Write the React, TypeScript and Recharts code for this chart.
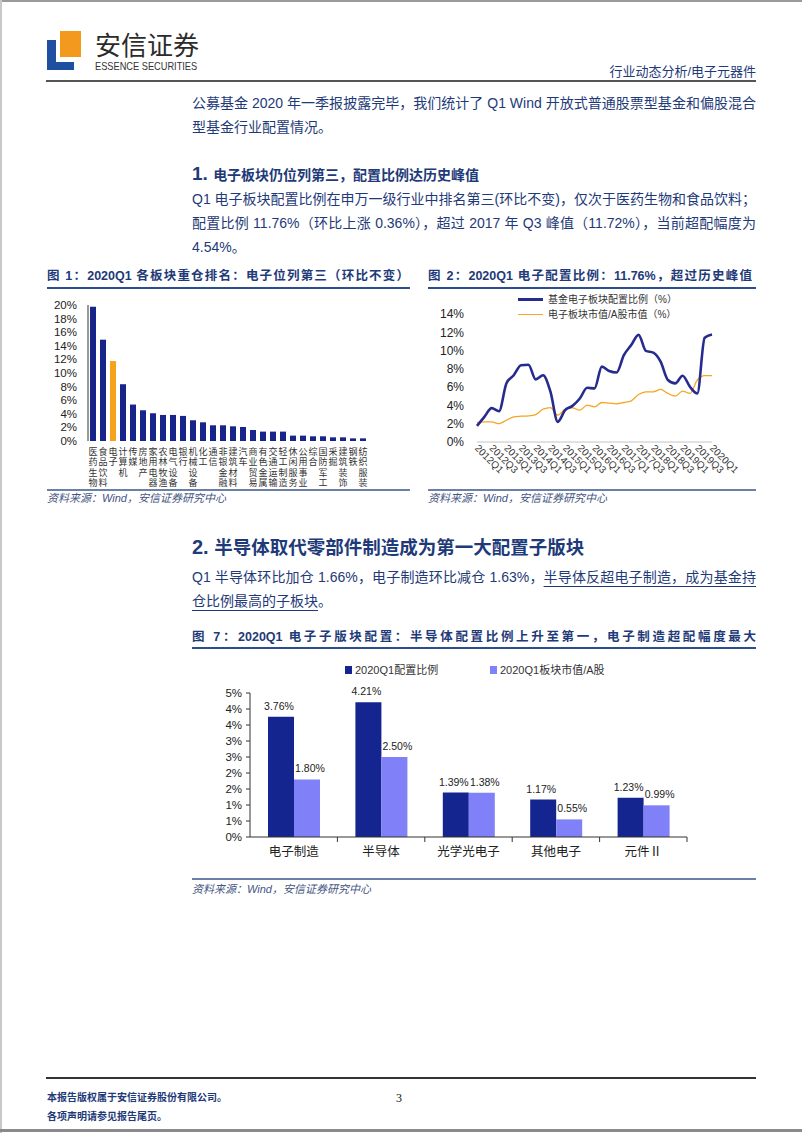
import React from "react";
import { Bar, BarChart, Cell, LabelList, Line, LineChart, XAxis, YAxis } from "recharts";

const SANS = '"Liberation Sans", Arial, "Noto Sans CJK SC", sans-serif';
const NAVY = "#1e3a78";

// 图1：申万一级行业基金重仓比例（%）
const industries = [
  "医药生物", "食品饮料", "电子", "计算机", "传媒", "房地产", "家用电器", "农林牧渔",
  "电气设备", "银行", "机械设备", "化工", "通信", "非银金融", "建筑材料", "汽车",
  "商业贸易", "有色金属", "交通运输", "轻工制造", "休闲服务", "公用事业", "综合",
  "国防军工", "采掘", "建筑装饰", "钢铁", "纺织服装",
];
const industryWeights = [
  19.75, 14.9, 11.76, 8.35, 5.36, 4.52, 4.08, 3.83, 3.83, 3.69, 3.05, 2.75, 2.31, 2.31,
  2.16, 2.06, 1.62, 1.38, 1.38, 1.38, 0.79, 0.79, 0.69, 0.69, 0.54, 0.54, 0.39, 0.39,
];
const industryTicks = [0, 2, 4, 6, 8, 10, 12, 14, 16, 18, 20];

// 图2：电子配置比例 vs 市值占比（%）
const quarters = [
  "2012Q1", "2012Q2", "2012Q3", "2012Q4", "2013Q1", "2013Q2", "2013Q3", "2013Q4",
  "2014Q1", "2014Q2", "2014Q3", "2014Q4", "2015Q1", "2015Q2", "2015Q3", "2015Q4",
  "2016Q1", "2016Q2", "2016Q3", "2016Q4", "2017Q1", "2017Q2", "2017Q3", "2017Q4",
  "2018Q1", "2018Q2", "2018Q3", "2018Q4", "2019Q1", "2019Q2", "2019Q3", "2019Q4",
  "2020Q1",
];
const fundWeight = [
  1.76, 2.75, 3.7, 3.37, 6.4, 7.3, 8.4, 8.45, 6.85, 7.3, 5.5, 2.2, 3.48, 3.95, 4.76, 5.93,
  5.86, 8.24, 7.77, 7.6, 9.5, 10.6, 11.72, 9.96, 9.78, 8.79, 6.78, 6.41, 7.25, 6.04, 5.31,
  11.4, 11.76,
];
const marketWeight = [
  2.12, 2.2, 2.2, 2.0, 2.38, 2.75, 2.82, 2.86, 3.0, 3.59, 3.77, 2.93, 3.59, 3.74, 3.48, 4.03,
  3.85, 4.32, 4.25, 4.18, 4.32, 4.5, 5.2, 5.49, 5.49, 5.75, 5.31, 5.02, 5.57, 5.31, 6.78,
  7.25, 7.25,
];
const shareTicks = [0, 2, 4, 6, 8, 10, 12, 14];

// 图7：电子子板块配置（%）
const subSectors = ["电子制造", "半导体", "光学光电子", "其他电子", "元件Ⅱ"];
const subConfig = [3.76, 4.21, 1.39, 1.17, 1.23];
const subMarket = [1.8, 2.5, 1.38, 0.55, 0.99];
const subTicks = [0, 0.5, 1, 1.5, 2, 2.5, 3, 3.5, 4, 4.5];

const industryData = industries.map((name, i) => ({ name, value: industryWeights[i] }));
const shareData = quarters.map((q, i) => ({ q, fund: fundWeight[i], market: marketWeight[i] }));
const subData = subSectors.map((name, i) => ({ name, config: subConfig[i], market: subMarket[i] }));

// 竖排标签：每个字单独一行
function VerticalTick({ x, y, payload }: any) {
  const chars = Array.from(String(payload.value));
  return (
    <g>
      {chars.map((c, i) => (
        <text key={i} x={x} y={y + 14 + i * 10.3} textAnchor="middle" fontSize={9} fill="#333" fontFamily='"Noto Sans CJK SC", sans-serif'>
          {c}
        </text>
      ))}
    </g>
  );
}

function SlantTick({ x, y, payload }: any) {
  return (
    <text x={x} y={y} transform={`rotate(45 ${x} ${y})`} fontSize={10} fill="#333" fontFamily={SANS} dy={4}>
      {payload.value}
    </text>
  );
}

function SubTick({ x, y, payload }: any) {
  const band = 87.4;
  return (
    <g>
      <line x1={x + band / 2} x2={x + band / 2} y1={y - 10} y2={y - 5} stroke="#333" />
      <text x={x} y={y} dy={9} textAnchor="middle" fontSize={12.5} fill="#222" fontFamily='"Noto Sans CJK SC", sans-serif'>
        {payload.value}
      </text>
    </g>
  );
}

const pct = (v: any) => `${Number(v).toFixed(2)}%`;

function ValueLabel({ x, y, width, value, shift }: any) {
  return (
    <text x={x + width / 2 + shift} y={y - 7} textAnchor="middle" fontSize={10.5} fill="#222" fontFamily={SANS}>
      {pct(value)}
    </text>
  );
}

function Txt({ x, y, size = 14, color = NAVY, bold = false, w, style, children }: any) {
  return (
    <div
      style={{
        position: "absolute",
        left: x,
        top: y - size * 0.75,
        width: w,
        height: size * 1.5,
        lineHeight: `${size * 1.5}px`,
        fontSize: size,
        fontWeight: bold ? 700 : 400,
        color,
        fontFamily: SANS,
        whiteSpace: "nowrap",
        textAlign: w ? "justify" : "left",
        textAlignLast: w ? "justify" : "auto",
        ...style,
      }}
    >
      {children}
    </div>
  );
}

function HLine({ x1, x2, y, h = 1, color }: any) {
  return <div style={{ position: "absolute", left: x1, top: y, width: x2 - x1, height: h, background: color }} />;
}

export default function App() {
  return (
    <div style={{ position: "absolute", left: 0, top: 0, width: 802, height: 1133, background: "#fff", overflow: "hidden" }}>
      <HLine x1={0} x2={802} y={0} h={2} color="#9a9a9a" />
      <div style={{ position: "absolute", left: 0, top: 0, width: 2, height: 1133, background: "#c8c8c8" }} />
      <HLine x1={0} x2={802} y={1129} h={3} color="#8a8a8a" />

      {/* logo */}
      <div style={{ position: "absolute", left: 60, top: 31, width: 21, height: 26, background: "#f39a1e" }} />
      <div style={{ position: "absolute", left: 47, top: 40, width: 9, height: 30, background: "#1f4fa0" }} />
      <div style={{ position: "absolute", left: 47, top: 62, width: 27, height: 8, background: "#1f4fa0" }} />
      <Txt x={95} y={46} size={26} color="#2b2b2b">安信证券</Txt>
      <Txt x={95} y={66} size={11} color="#333" style={{ transform: "scaleX(0.84)", transformOrigin: "left center" }}>
        ESSENCE SECURITIES
      </Txt>
      <div style={{ position: "absolute", right: 46, top: 62, fontSize: 13, lineHeight: "20px", color: NAVY, fontFamily: SANS }}>
        行业动态分析/电子元器件
      </div>
      <HLine x1={46} x2={756} y={80} h={2} color="#555" />

      <Txt x={192} y={103} w={564}>公募基金 2020 年一季报披露完毕，我们统计了 Q1 Wind 开放式普通股票型基金和偏股混合</Txt>
      <Txt x={192} y={127}>型基金行业配置情况。</Txt>

      <Txt x={192} y={173} size={14} bold>
        <span style={{ fontSize: 19 }}>1. </span>电子板块仍位列第三，配置比例达历史峰值
      </Txt>
      <Txt x={192} y={199} w={564}>Q1 电子板块配置比例在申万一级行业中排名第三(环比不变)，仅次于医药生物和食品饮料；</Txt>
      <Txt x={192} y={223} w={564}>配置比例 11.76%（环比上涨 0.36%），超过 2017 年 Q3 峰值（11.72%），当前超配幅度为</Txt>
      <Txt x={192} y={247}>4.54%。</Txt>

      <Txt x={47} y={276} w={362} size={12.5} bold>图 1：2020Q1 各板块重仓排名：电子位列第三（环比不变）</Txt>
      <HLine x1={47} x2={410} y={287} h={2} color="#2c4d8f" />
      <Txt x={428} y={276} w={324} size={12.5} bold>图 2：2020Q1 电子配置比例：11.76%，超过历史峰值</Txt>
      <HLine x1={428} x2={756} y={287} h={2} color="#2c4d8f" />

      <div style={{ position: "absolute", left: 30, top: 295 }}>
        <BarChart width={350} height={200} data={industryData} margin={{ top: 10, right: 12, bottom: 0, left: 8 }} barSize={6}>
          <XAxis dataKey="name" interval={0} axisLine={false} tickLine={false} tickSize={0} tickMargin={0} height={54} tick={<VerticalTick />} />
          <YAxis
            domain={[0, 20]}
            ticks={industryTicks}
            interval={0}
            width={50}
            axisLine={{ stroke: "#333" }}
            tickLine={false}
            tickSize={0}
            tickMargin={11}
            tickFormatter={(v: number) => `${v}%`}
            tick={{ fontSize: 11.5, fill: "#222", fontFamily: SANS }}
          />
          <Bar dataKey="value" isAnimationActive={false}>
            {industryData.map((d, i) => (
              <Cell key={d.name} fill={i === 2 ? "#f7a21b" : "#17248a"} />
            ))}
          </Bar>
        </BarChart>
      </div>

      <div style={{ position: "absolute", left: 420, top: 285 }}>
        <LineChart width={340} height={200} data={shareData} margin={{ top: 29, right: 48, bottom: 0, left: 7 }}>
          <XAxis dataKey="q" interval={1} axisLine={{ stroke: "#c4c4c4" }} tickLine={false} tickSize={0} tickMargin={4} height={43} tick={<SlantTick />} />
          <YAxis
            domain={[0, 14]}
            ticks={shareTicks}
            interval={0}
            width={50}
            axisLine={false}
            tickLine={false}
            tickSize={0}
            tickMargin={13}
            tickFormatter={(v: number) => `${v}%`}
            tick={{ fontSize: 12, fill: "#222", fontFamily: SANS }}
          />
          <Line type="monotone" dataKey="market" stroke="#f5a623" strokeWidth={1.3} dot={false} isAnimationActive={false} />
          <Line type="monotone" dataKey="fund" stroke="#262b8e" strokeWidth={2.6} dot={false} isAnimationActive={false} />
        </LineChart>
      </div>
      <HLine x1={518} x2={543} y={298} h={3} color="#262b8e" />
      <Txt x={548} y={299} size={10} color="#333">基金电子板块配置比例（%）</Txt>
      <HLine x1={518} x2={543} y={313.5} h={1.5} color="#f5a623" />
      <Txt x={548} y={314} size={10} color="#333">电子板块市值/A股市值（%）</Txt>

      <HLine x1={47} x2={410} y={489} h={2} color="#6b7fa8" />
      <HLine x1={428} x2={756} y={489} h={2} color="#6b7fa8" />
      <Txt x={47} y={498} size={11} color="#44557f" style={{ fontStyle: "italic" }}>资料来源：Wind，安信证券研究中心</Txt>
      <Txt x={428} y={498} size={11} color="#44557f" style={{ fontStyle: "italic" }}>资料来源：Wind，安信证券研究中心</Txt>

      <Txt x={192} y={548} size={18.5} bold>
        <span style={{ fontSize: 20 }}>2. </span>半导体取代零部件制造成为第一大配置子版块
      </Txt>
      <Txt x={192} y={577} w={564}>
        Q1 半导体环比加仓 1.66%，电子制造环比减仓 1.63%，<span style={{ textDecoration: "underline", textUnderlineOffset: 4 }}>半导体反超电子制造，成为基金持</span>
      </Txt>
      <Txt x={192} y={601}>
        <span style={{ textDecoration: "underline", textUnderlineOffset: 4 }}>仓比例最高的子板块</span>。
      </Txt>

      <Txt x={192} y={637} w={564} size={12.5} bold>图 7：2020Q1 电子子版块配置：半导体配置比例上升至第一，电子制造超配幅度最大</Txt>
      <HLine x1={192} x2={756} y={647} h={2} color="#2c4d8f" />

      <div style={{ position: "absolute", left: 345, top: 666, width: 7, height: 8, background: "#15258f" }} />
      <Txt x={355} y={670} size={11} color="#333">2020Q1配置比例</Txt>
      <div style={{ position: "absolute", left: 490, top: 666, width: 7, height: 8, background: "#8080f8" }} />
      <Txt x={500} y={670} size={11} color="#333">2020Q1板块市值/A股</Txt>

      <div style={{ position: "absolute", left: 190, top: 655 }}>
        <BarChart width={570} height={215} data={subData} margin={{ top: 38, right: 73, bottom: 0, left: 0 }} barSize={26} barGap={0}>
          <XAxis dataKey="name" interval={0} axisLine={{ stroke: "#333" }} tickLine={false} tickSize={0} tickMargin={10} height={33} tick={<SubTick />} />
          <YAxis
            domain={[0, 4.5]}
            ticks={subTicks}
            interval={0}
            width={60}
            axisLine={{ stroke: "#333" }}
            tickLine={{ stroke: "#333" }}
            tickSize={4}
            tickMargin={4}
            tickFormatter={(v: number) => `${Math.round(v + 1e-9)}%`}
            tick={{ fontSize: 11.5, fill: "#222", fontFamily: SANS }}
          />
          <Bar dataKey="config" fill="#15258f" isAnimationActive={false}>
            <LabelList dataKey="config" content={(p: any) => <ValueLabel {...p} shift={-2} />} />
          </Bar>
          <Bar dataKey="market" fill="#8080f8" isAnimationActive={false}>
            <LabelList dataKey="market" content={(p: any) => <ValueLabel {...p} shift={3} />} />
          </Bar>
        </BarChart>
      </div>

      <HLine x1={192} x2={756} y={878} h={2} color="#6b7fa8" />
      <Txt x={192} y={889} size={11} color="#44557f" style={{ fontStyle: "italic" }}>资料来源：Wind，安信证券研究中心</Txt>

      <HLine x1={46} x2={756} y={1077} h={1.5} color="#333" />
      <Txt x={47} y={1097} size={10} bold>本报告版权属于安信证券股份有限公司。</Txt>
      <Txt x={47} y={1116} size={10} bold>各项声明请参见报告尾页。</Txt>
      <Txt x={396} y={1098} size={12} color="#111" style={{ fontFamily: '"Liberation Serif", serif' }}>3</Txt>
    </div>
  );
}
